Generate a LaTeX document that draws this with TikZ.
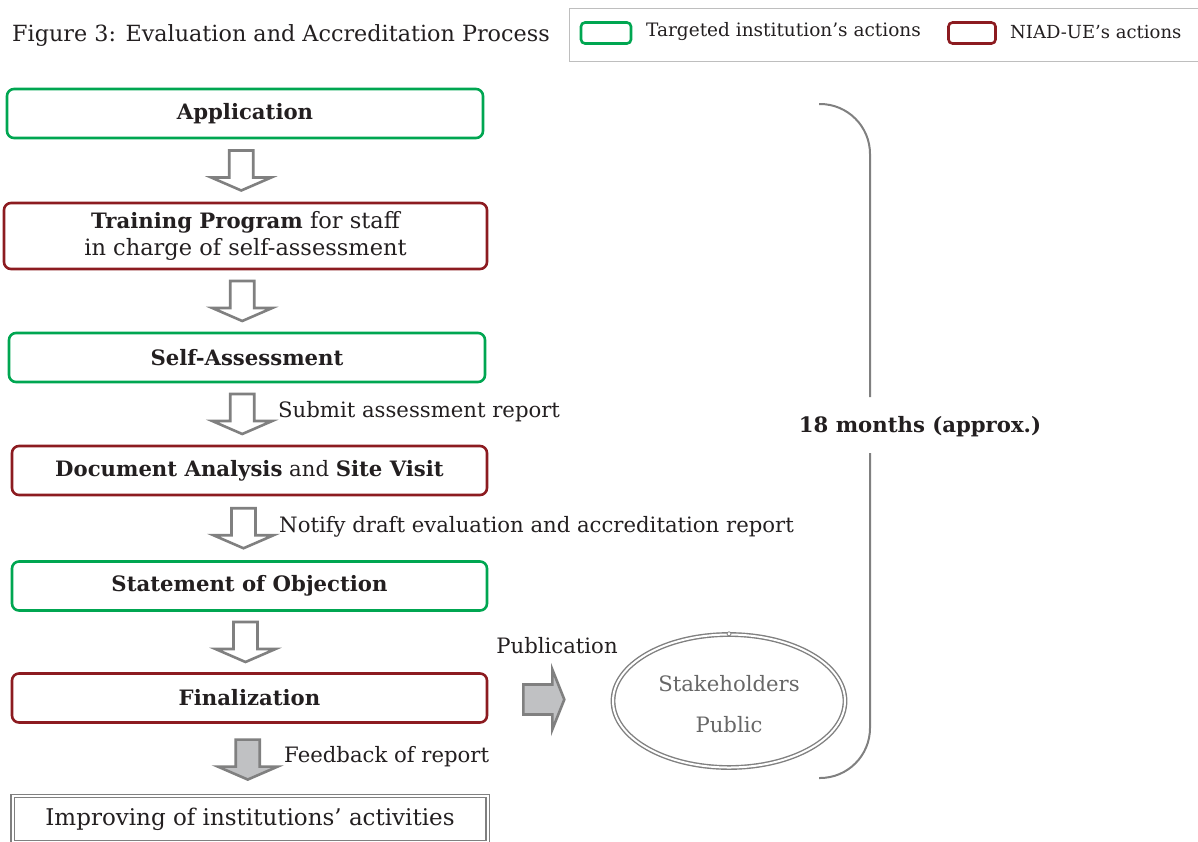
\documentclass[tikz,border=0pt]{standalone}
\usepackage{fontspec}
\setmainfont{DejaVu Serif}
\usetikzlibrary{shapes.geometric,calc}
\definecolor{tgreen}{RGB}{0,166,81}
\definecolor{nred}{RGB}{140,27,32}
\definecolor{agray}{RGB}{128,128,128}
\definecolor{lgray}{RGB}{192,193,195}
\definecolor{txt}{RGB}{35,31,32}
\definecolor{legray}{RGB}{190,190,190}
\tikzset{
  x=1pt,y=-1pt,
  every node/.style={text=txt,font=\fontsize{21.2}{27}\selectfont},
  box/.style={rectangle,rounded corners=7,line width=2.6,minimum height=49,inner sep=0},
  gbox/.style={box,draw=tgreen},
  rbox/.style={box,draw=nred},
  lab/.style={anchor=west,inner sep=0},
  darr/.pic={\draw[line width=2.6,draw=agray,pic actions]
     (-12,-20) -- (12,-20) -- (12,7) -- (30,7) -- (0,20) -- (-30,7) -- (-12,7) -- cycle;},
  rarr/.pic={\draw[line width=2.6,draw=agray,pic actions]
     (-20,-15) -- (9,-15) -- (9,-30) -- (21,0) -- (9,30) -- (9,15) -- (-20,15) -- cycle;},
  bracket/.style={draw=agray,line width=2,rounded corners=50},
}
\begin{document}
\begin{tikzpicture}
\useasboundingbox (0,0) rectangle (1198,841);
% title
\node[anchor=west,inner sep=0,font=\fontsize{22.3}{27}\selectfont] (title) at (12,36) {Figure 3: Evaluation and Accreditation Process};
% legend
\node[draw=legray,line width=1,anchor=north west,minimum width=640,minimum height=53,inner sep=0] (legend) at (569,8) {};
\node[rectangle,rounded corners=4,draw=tgreen,line width=2.6,minimum width=50,minimum height=21,inner sep=0] (lg) at (606,33) {};
\node[lab,font=\fontsize{18.5}{22}\selectfont] (lgt) at (646,32) {Targeted institution’s actions};
\node[rectangle,rounded corners=4,draw=nred,line width=2.6,minimum width=47,minimum height=21,inner sep=0] (lr) at (972,33) {};
\node[lab,font=\fontsize{18}{22}\selectfont] (lrt) at (1010,32) {NIAD-UE’s actions};
% boxes
\node[gbox,minimum width=476] (app) at (245,113.5) {\bfseries Application};
\node[rbox,minimum width=483,minimum height=66,align=center,font=\fontsize{22.5}{27}\selectfont] (train) at (245.5,236) {{\fontsize{21.2}{27}\selectfont\bfseries Training Program} for staff\\in charge of self-assessment};
\node[gbox,minimum width=476] (self) at (247,357.5) {\bfseries Self-Assessment};
\node[rbox,minimum width=475] (doc) at (249.5,470.5) {\textbf{Document Analysis} and \textbf{Site Visit}};
\node[gbox,minimum width=475] (stmt) at (249.5,586) {\bfseries Statement of Objection};
\node[rbox,minimum width=475] (fin) at (249.5,698) {\bfseries Finalization};
\node[rectangle,draw=agray,double=white,double distance=2,line width=1.4,minimum width=475,minimum height=46,inner sep=0,font=\fontsize{23}{27}\selectfont] (imp) at (250,819) {Improving of institutions’ activities};
% down arrows
\coordinate (a1) at ($(app.south)!0.5!(train.north)+(-4,0)$);
\pic[fill=white] at (a1) {darr};
\coordinate (a2) at ($(train.south)!0.5!(self.north)+(-4,0)$);
\pic[fill=white] at (a2) {darr};
\coordinate (a3) at ($(self.south)!0.5!(doc.north)+(-6,0)$);
\pic[fill=white] at (a3) {darr};
\node[lab] (l3) at (278,412) {Submit assessment report};
\coordinate (a4) at ($(doc.south)!0.5!(stmt.north)+(-6,0)$);
\pic[fill=white] at (a4) {darr};
\node[lab] (l4) at (279,527) {Notify draft evaluation and accreditation report};
\coordinate (a5) at ($(stmt.south)!0.5!(fin.north)+(-4,0)$);
\pic[fill=white] at (a5) {darr};
\coordinate (a6) at ($(fin.south)!0.5!(imp.north)+(-2,0)$);
\pic[fill=lgray] at (a6) {darr};
\node[lab] (l6) at (284,757) {Feedback of report};
% publication
\node[ellipse,draw=agray,double=white,double distance=2,line width=1.4,minimum width=232,minimum height=133,inner sep=0] (pub) at (729,701) {};
\node[text=agray!80!black] (stake) at (729,684) {Stakeholders};
\node[text=agray!80!black] (public) at (729,725) {Public};
\node[circle,draw=agray,line width=0.8,inner sep=0,minimum size=4,fill=white] (dot) at (pub.north) {};
\coordinate (pa) at ($(fin.east)!0.5!(pub.west)+(-7,0)$);
\pic[fill=lgray] at (pa) {rarr};
\node (publab) at (557,646) {Publication};
% bracket
\node[font=\fontsize{21.2}{27}\selectfont\bfseries] (months) at (920,427) {18 months (approx.)};
\coordinate (b1) at (819,104);
\coordinate (b2) at (819,778);
\draw[bracket] (b1) -- (870,104) -- (870,397);
\draw[bracket] (870,453) -- (870,778) -- (b2);
\end{tikzpicture}
\end{document}
